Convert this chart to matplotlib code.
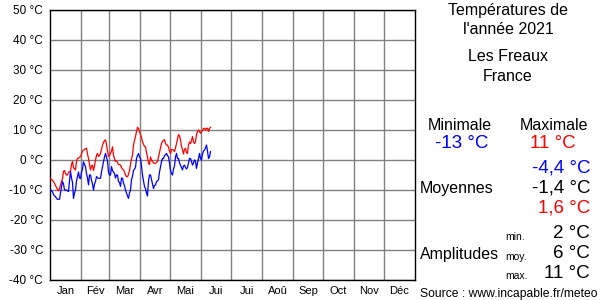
"""Températures 2021 - Les Freaux."""

import numpy as np
import matplotlib

matplotlib.use("Agg")
import matplotlib.pyplot as plt

plt.rcParams["font.family"] = ["Liberation Sans", "DejaVu Sans"]

months = ["Jan", "Fév", "Mar", "Avr", "Mai", "Jui", "Jui", "Aoû", "Sep", "Oct", "Nov", "Déc"]
month_days = [31, 28, 31, 30, 31, 30, 31, 31, 30, 31, 30, 31]
y_ticks = [50, 40, 30, 20, 10, 0, -10, -20, -30, -40]

# daily maxima (red), from 1 January
t_max = [
    -6.3, -6.5, -6.8, -7.2, -7.8, -8.5, -9.2, -9.8, -10.3, -9.5,
    -8.3, -7.2, -6.2, -3.8, -3.5, -4.5, -5.0, -5.0, -4.2, -3.8,
    -3.9, -1.5, -0.5, -2.5, -3.0, -3.3, -0.5, 0.5, 0.6, 1.0,
    1.1, 2.0, 3.0, 3.3, 3.5, 3.8, 3.9, 2.0, 0.5, -1.5,
    -3.3, -2.0, -1.7, -3.5, -2.0, 0.0, 1.5, 2.2, 1.2, 1.5,
    2.2, 3.5, 5.0, 5.8, 6.5, 6.7, 5.2, 3.0, 1.2, 1.5,
    2.2, 3.0, 4.4, 1.5, 0.5, -0.5, -0.3, -0.8, -1.5, -1.5,
    -1.7, -2.5, -3.0, -3.3, -4.0, -5.0, -5.5, -5.6, -4.8, -3.5,
    -1.5, 0.5, 1.5, 5.0, 6.5, 7.8, 9.5, 10.9, 10.5, 9.5,
    8.5, 7.5, 6.0, 5.3, 4.5, 4.4, 2.5, 1.0, -1.0, -1.5,
    1.0, 0.0, -0.5, -1.0, -1.1, -1.1, -0.8, -0.5, 1.0, 2.5,
    4.0, 5.5, 6.2, 6.5, 6.8, 5.5, 5.0, 5.0, 4.2, 3.0,
    2.2, 3.5, 3.5, 3.3, 2.8, 4.0, 5.5, 7.0, 8.5, 8.0,
    6.7, 4.5, 3.5, 2.0, 3.5, 3.9, 2.5, 2.2, 5.0, 6.0,
    5.5, 6.5, 7.8, 6.0, 5.5, 6.0, 8.5, 9.5, 10.0, 9.5,
    8.9, 9.5, 9.8, 10.5, 10.6, 10.0, 10.5, 10.6, 9.5, 10.5,
    10.9,
]

# daily minima (blue)
t_min = [
    -10.0, -10.3, -10.6, -11.5, -12.0, -12.2, -12.8, -13.1, -13.1, -13.1,
    -11.0, -9.0, -7.2, -8.0, -10.0, -10.0, -10.0, -10.3, -10.5, -7.0,
    -3.9, -6.0, -7.5, -12.8, -11.0, -10.0, -7.0, -5.5, -4.0, -6.0,
    -6.2, -4.0, -3.0, -0.6, -1.5, -2.2, -4.5, -6.0, -8.3, -5.0,
    -5.0, -6.7, -8.0, -10.0, -8.0, -7.2, -5.5, -6.0, -6.1, -6.1,
    -6.1, -4.0, -2.2, -0.6, 1.0, 2.2, 1.0, -0.5, -4.0, -5.0,
    -5.0, -2.2, -3.5, -4.0, -4.5, -6.0, -5.0, -5.0, -7.2, -7.5,
    -8.8, -6.0, -6.1, -7.8, -8.5, -10.0, -11.0, -12.0, -12.8, -11.0,
    -10.0, -6.5, -5.5, -3.5, -3.0, -2.5, 0.5, 1.5, 2.2, 1.0,
    0.5, -2.0, -5.0, -7.0, -8.9, -9.5, -11.0, -12.0, -7.0, -5.0,
    -5.0, -6.5, -8.0, -9.5, -8.5, -8.3, -7.2, -7.0, -6.5, -4.0,
    -2.2, -0.6, 0.5, 0.5, 1.5, 1.7, 2.2, 1.5, 1.0, -1.0,
    -3.5, -4.5, -5.0, -3.0, -2.0, 1.0, 2.2, 0.5, 0.5, -1.0,
    -1.7, -2.5, -3.3, -2.0, -1.7, -2.5, -3.0, -2.5, -1.0, 0.5,
    0.5, -0.5, -1.7, -1.0, 0.0, -0.5, -2.8, -1.0, 0.5, 2.2,
    0.5, 0.0, 2.0, 3.0, 3.3, 4.0, 5.0, 3.0, 0.5, 1.0,
    2.8,
]

fig = plt.figure(figsize=(6, 3), dpi=100)
ax = fig.add_axes([50 / 600, 20 / 300, 365 / 600, 270 / 300])

days = np.arange(len(t_max)) + 0.5
ax.plot(days, t_max, color="#ff0000", lw=0.9, zorder=3)
ax.plot(days, t_min, color="#0000ff", lw=0.9, zorder=3)

bounds = np.cumsum([0] + month_days)
centers = (bounds[:-1] + bounds[1:]) / 2
ax.set_xlim(0, 365)
ax.set_ylim(-40, 50)
ax.set_xticks(bounds[1:-1])
ax.set_xticklabels([])
ax.set_xticks(centers, minor=True)
ax.set_xticklabels(months, minor=True, fontsize=8)
ax.set_yticks(y_ticks)
ax.set_yticklabels([f"{v} °C" for v in y_ticks], fontsize=8.5)
ax.tick_params(axis="both", which="both", length=0)
ax.tick_params(axis="y", pad=5)
ax.tick_params(axis="x", which="minor", pad=4)
ax.grid(True, which="major", color="#808080", lw=1)
for s in ax.spines.values():
    s.set_color("black")
    s.set_linewidth(1)


def txt(x, y, s, **kw):
    fig.text(x / 600, 1 - y / 300, s, va="center", **kw)


txt(508, 10, "Températures de", ha="center", fontsize=11.5)
txt(508, 30, "l'année 2021", ha="center", fontsize=11.5)
txt(508, 57, "Les Freaux", ha="center", fontsize=11.5)
txt(508, 77, "France", ha="center", fontsize=11.5)

txt(460, 125, "Minimale", ha="center", fontsize=11.5)
txt(554, 125, "Maximale", ha="center", fontsize=11.5)
txt(462, 144, "-13 °C", ha="center", fontsize=13.5, color="#0000ff")
txt(553, 144, "11 °C", ha="center", fontsize=13.5, color="#ff0000")

txt(420, 188, "Moyennes", ha="left", fontsize=11.5)
txt(590, 168, "-4,4 °C", ha="right", fontsize=13.5, color="#0000ff")
txt(590, 188, "-1,4 °C", ha="right", fontsize=13.5)
txt(590, 208, "1,6 °C", ha="right", fontsize=13.5, color="#ff0000")

txt(420, 255, "Amplitudes", ha="left", fontsize=11.5)
txt(505, 237, "min.", ha="left", fontsize=7.5)
txt(505, 257, "moy.", ha="left", fontsize=7.5)
txt(505, 276, "max.", ha="left", fontsize=7.5)
txt(590, 233, "2 °C", ha="right", fontsize=13.5)
txt(590, 254, "6 °C", ha="right", fontsize=13.5)
txt(590, 274, "11 °C", ha="right", fontsize=13.5)

txt(597, 294, "Source : www.incapable.fr/meteo", ha="right", fontsize=8.7)

fig.savefig("out.png", dpi=100)
